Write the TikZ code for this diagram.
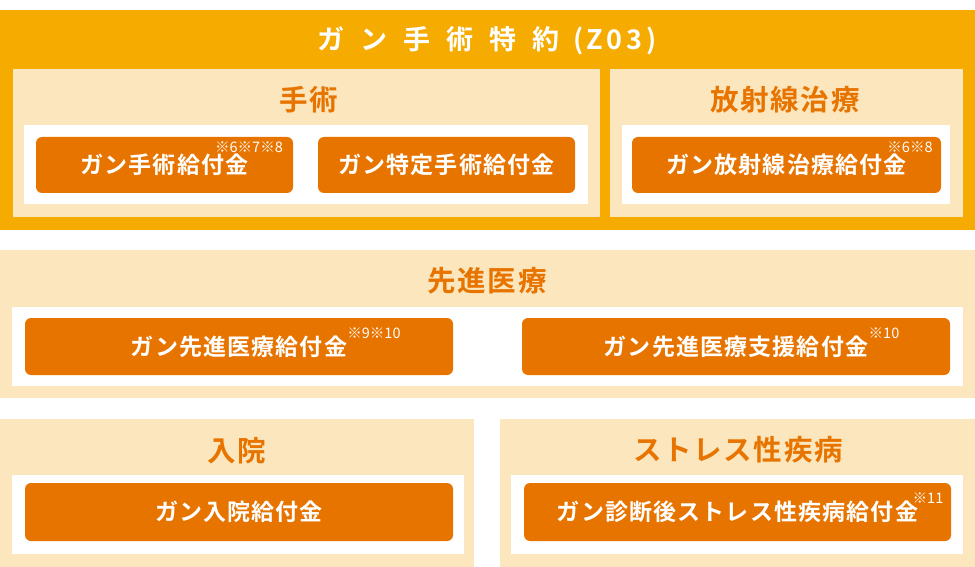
\documentclass[tikz,border=0pt]{standalone}
\usepackage{fontspec}
\setmainfont{Noto Sans CJK JP}
\newfontfamily\btnf{Noto Sans CJK JP Bold}[LetterSpace=5]
\newfontfamily\headf{Noto Sans CJK JP Bold}[LetterSpace=6]
\newfontfamily\titf{Noto Sans CJK JP Bold}
\newfontfamily\supf{Noto Sans CJK JP}
\definecolor{topor}{HTML}{F5AB00}
\definecolor{lightor}{HTML}{FCE6BD}
\definecolor{btnor}{HTML}{E87400}
\begin{document}
\begin{tikzpicture}[x=1pt,y=-1pt,
  btn/.style={fill=btnor, rounded corners=6pt, text=white, inner sep=0pt,
    font=\btnf\fontsize{23}{26}\selectfont},
  headtxt/.style={text=btnor, inner sep=0pt, font=\headf\fontsize{28.5}{32}\selectfont},
  suptxt/.style={text=white, inner sep=0pt, font=\supf\fontsize{14.5}{16}\selectfont},
  titletxt/.style={text=white, inner sep=0pt, font=\titf\fontsize{27}{30}\selectfont}]
\useasboundingbox (0,0) rectangle (975,567);
\fill[white] (0,0) rectangle (975,567);
% top band
\fill[topor] (0,10) rectangle (975,230);
\fill[lightor] (13,69) rectangle (600,217);
\fill[lightor] (610,69) rectangle (963,217);
\fill[white] (24,125) rectangle (588,204);
\fill[white] (622,125) rectangle (950,204);
% middle
\fill[lightor] (0,250) rectangle (975,398);
\fill[white] (12,307) rectangle (963,386);
% bottom
\fill[lightor] (0,419) rectangle (474,567);
\fill[lightor] (500,419) rectangle (975,567);
\fill[white] (12,475) rectangle (464,554);
\fill[white] (511,475) rectangle (963,554);
% title
\node[titletxt] (title) at (487,41) {ガ\hspace{16pt}ン\hspace{16pt}手\hspace{16pt}術\hspace{16pt}特\hspace{16pt}約\hspace{14pt}(\hspace{3pt}Z\hspace{4pt}0\hspace{4pt}3\hspace{4pt})};
% headings
\node[headtxt] (h1) at (309,100) {手術};
\node[headtxt] (h2) at (785,100) {放射線治療};
\node[headtxt] (h3) at (487,281) {先進医療};
\node[headtxt] (h4) at (237,451) {入院};
\node[headtxt] (h5) at (738,450) {ストレス性疾病};
% buttons
\node[btn, minimum width=257pt, minimum height=56pt] (b1) at (164.5,165) {ガン手術給付金};
\node[btn, minimum width=257pt, minimum height=56pt] (b2) at (446.5,165) {ガン特定手術給付金};
\node[btn, minimum width=309pt, minimum height=56pt] (b3) at (786.5,165) {ガン放射線治療給付金};
\node[btn, minimum width=428pt, minimum height=57pt] (b4) at (239,346.5) {ガン先進医療給付金};
\node[btn, minimum width=428pt, minimum height=57pt] (b5) at (736,346.5) {ガン先進医療支援給付金};
\node[btn, minimum width=428pt, minimum height=58pt] (b6) at (239,512) {ガン入院給付金};
\node[btn, minimum width=427pt, minimum height=58pt] (b7) at (737.5,512) {ガン診断後ストレス性疾病給付金};
% notes
\node[suptxt] (s1) at (249,147) {※6※7※8};
\node[suptxt] (s2) at (910,147) {※6※8};
\node[suptxt] (s3) at (374,333) {※9※10};
\node[suptxt] (s4) at (884,333) {※10};
\node[suptxt] (s5) at (928,498) {※11};
\end{tikzpicture}
\end{document}
